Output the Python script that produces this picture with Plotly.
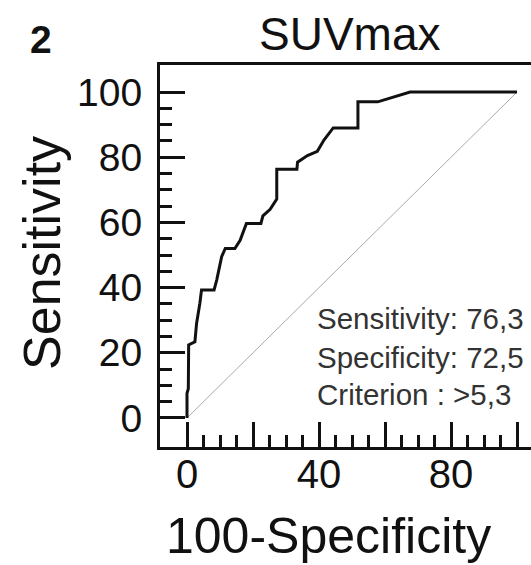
import plotly.graph_objects as go

# ROC curve (100-Specificity, Sensitivity)
fpr = [0, 0, 0.4, 0.5, 2.4, 2.9, 3.9, 4.4, 8.2, 9.0,
       10.5, 11.6, 14.5, 16.1, 18.0, 22.4, 23.0, 25.2, 27.2, 27.2,
       33.3, 33.5, 36.5, 39.5, 41.5, 44.3, 51.8, 51.8, 57.8, 67.6,
       100]
tpr = [0, 7.6, 9.0, 22.4, 23.4, 29.0, 35.2, 39.3, 39.3, 42.3,
       49.5, 52.0, 52.0, 54.5, 59.7, 59.7, 62.0, 64.0, 67.2, 76.3,
       76.3, 78.5, 80.5, 81.8, 85.3, 89.0, 89.0, 97.0, 97.0, 100,
       100]
diag_x = [0, 100]
diag_y = [0, 100]

x_tickvals = [0, 20, 40, 60, 80, 100]
x_ticktext = ["0", "", "40", "", "80", ""]
y_tickvals = [0, 20, 40, 60, 80, 100]
y_ticktext = ["0", "20", "40", "60", "80", "100"]
minor_vals = [5, 10, 15, 25, 30, 35, 45, 50, 55, 65, 70, 75, 85, 90, 95]

stats_lines = ["Sensitivity: 76,3", "Specificity: 72,5", "Criterion : >5,3"]
stats_y = [30.4, 18.7, 7.1]

FONT = "Liberation Sans, Arial, sans-serif"
INK = "#111111"

fig = go.Figure()
fig.add_trace(go.Scatter(x=diag_x, y=diag_y, mode="lines",
                         line=dict(color="#aaaaaa", width=1), hoverinfo="skip"))
fig.add_trace(go.Scatter(x=fpr, y=tpr, mode="lines",
                         line=dict(color=INK, width=3)))

fig.update_layout(
    width=531, height=565,
    margin=dict(l=160, r=0, t=65, b=118),
    paper_bgcolor="white", plot_bgcolor="white",
    showlegend=False,
    font=dict(family=FONT, color=INK),
)

fig.update_xaxes(
    range=[-8.18, 104.24], showgrid=False, zeroline=False,
    showline=True, linecolor=INK, linewidth=3, mirror=True,
    tickvals=x_tickvals, ticktext=x_ticktext,
    ticks="inside", ticklen=25, tickwidth=3, tickcolor=INK,
    minor=dict(ticks="inside", ticklen=12, tickwidth=3, tickcolor=INK,
               tickmode="array", tickvals=minor_vals, showgrid=False),
    tickfont=dict(size=40, family=FONT, color=INK),
    ticklabelstandoff=-10,
)
fig.update_yaxes(
    range=[-8.9, 108.3], showgrid=False, zeroline=False,
    showline=True, linecolor=INK, linewidth=3, mirror=False,
    tickvals=y_tickvals, ticktext=y_ticktext,
    ticks="inside", ticklen=25, tickwidth=3, tickcolor=INK,
    minor=dict(ticks="inside", ticklen=12, tickwidth=3, tickcolor=INK,
               tickmode="array", tickvals=minor_vals, showgrid=False),
    tickfont=dict(size=39, family=FONT, color=INK),
    ticklabelstandoff=7,
)

for line, yy in zip(stats_lines, stats_y):
    fig.add_annotation(x=38.8, y=yy, xref="x", yref="y", text=line, showarrow=False,
                       xanchor="left", yanchor="middle",
                       font=dict(size=29.5, family=FONT, color="#333333"))

fig.add_annotation(x=0.51, y=1.08, xref="paper", yref="paper", text="SUVmax",
                   showarrow=False, xanchor="center", yanchor="middle",
                   font=dict(size=46, family=FONT, color=INK))
fig.add_annotation(x=-0.321, y=1.068, xref="paper", yref="paper", text="<b>2</b>",
                   showarrow=False, xanchor="center", yanchor="middle",
                   font=dict(size=39, family=FONT, color=INK))
fig.add_annotation(x=-0.318, y=0.508, xref="paper", yref="paper", text="Sensitivity",
                   textangle=-90, showarrow=False, xanchor="center", yanchor="middle",
                   font=dict(size=52, family=FONT, color=INK))
fig.add_annotation(x=0.453, y=-0.233, xref="paper", yref="paper", text="100-Specificity",
                   showarrow=False, xanchor="center", yanchor="middle",
                   font=dict(size=50, family=FONT, color=INK))

fig.write_html("out.html")
